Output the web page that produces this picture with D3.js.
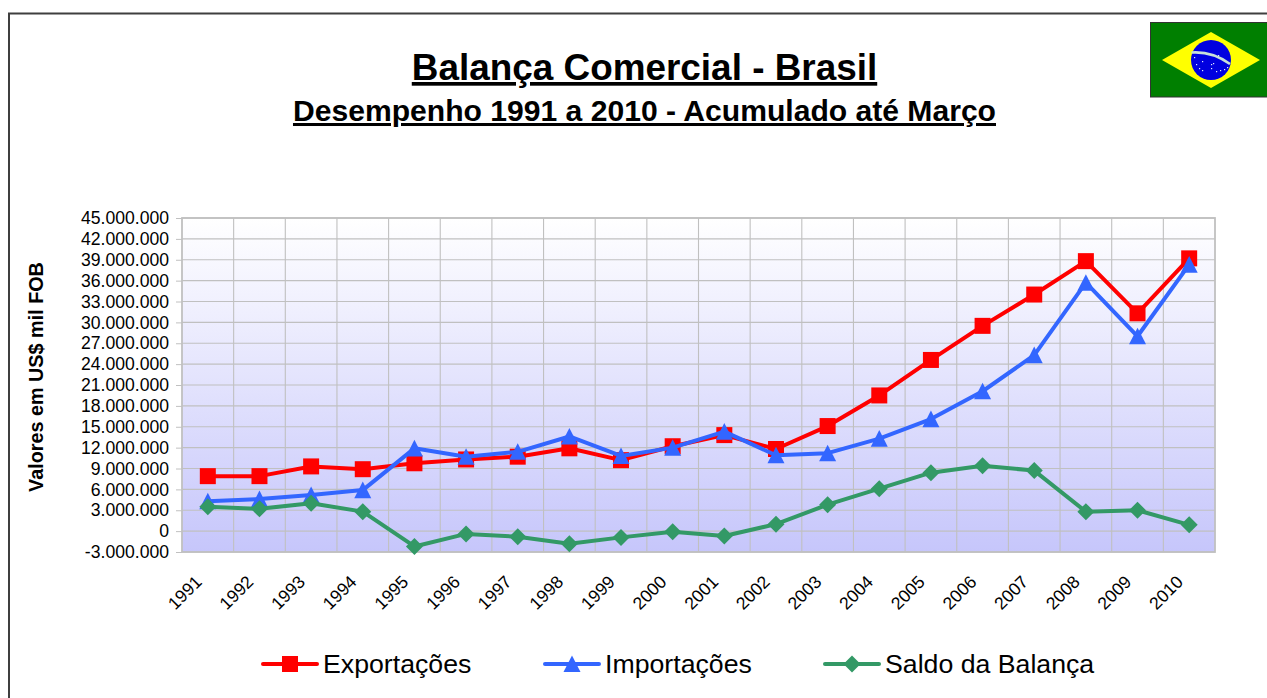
<!DOCTYPE html>
<html><head><meta charset="utf-8">
<script src="https://cdnjs.cloudflare.com/ajax/libs/d3/7.8.5/d3.min.js"></script>
<style>html,body{margin:0;padding:0;background:#fff;overflow:hidden}svg{display:block}text{font-family:"Liberation Sans",Arial,sans-serif;fill:#000}</style>
</head><body><svg id="c" width="1267" height="698"></svg>
<script>
const years=["1991","1992","1993","1994","1995","1996","1997","1998","1999","2000","2001","2002","2003","2004","2005","2006","2007","2008","2009","2010"];
const exportacoes=[7900000,7900000,9300000,8900000,9750000,10300000,10700000,11900000,10200000,12200000,13800000,11800000,15100000,19500000,24600000,29500000,34000000,38800000,31300000,39200000];
const importacoes=[4300000,4600000,5200000,5900000,11900000,10700000,11400000,13600000,10800000,12000000,14300000,10900000,11200000,13300000,16100000,20100000,25300000,35700000,28000000,38300000];
const saldo=[3500000,3200000,4000000,2800000,-2200000,-400000,-800000,-1800000,-900000,-100000,-700000,1000000,3800000,6100000,8400000,9400000,8700000,2800000,3000000,900000];
const yTicks=[-3,0,3,6,9,12,15,18,21,24,27,30,33,36,39,42,45].map(d=>d*1000000);
const seriesNames=["Exportações","Importações","Saldo da Balança"];
const seriesColors=["#ff0000","#3366ff","#339966"];

const svg=d3.select("#c");
const L=182,R=1215,T=218,B=552;
const x=d3.scaleBand().domain(years).range([L,R]);
const y=d3.scaleLinear().domain([-3000000,45000000]).range([B,T]);
const fmt=d=>(d<0?"-":"")+d3.format(",")(Math.abs(d)).replace(/,/g,".");

const defs=svg.append("defs");
const g=defs.append("linearGradient").attr("id","bg").attr("x1",0).attr("y1",0).attr("x2",0).attr("y2",1);
g.append("stop").attr("offset","0").attr("stop-color","#ffffff");
g.append("stop").attr("offset","1").attr("stop-color","#c6c6fb");

// frame
svg.append("path").attr("d","M9,698V13.5H1267").attr("fill","none").attr("stroke","#3f3f3f").attr("stroke-width",2);

// titles
svg.append("text").attr("x",644.5).attr("y",80).attr("text-anchor","middle").attr("font-size",36.9).attr("font-weight","bold").attr("text-decoration","underline").text("Balança Comercial - Brasil");
svg.append("text").attr("x",644.5).attr("y",121).attr("text-anchor","middle").attr("font-size",30.1).attr("font-weight","bold").attr("text-decoration","underline").text("Desempenho 1991 a 2010 - Acumulado até Março");

// flag
const flag=svg.append("g");
flag.append("rect").attr("x",1150.5).attr("y",22.5).attr("width",118).attr("height",74.5).attr("fill","#007f00").attr("stroke","#333").attr("stroke-width",1);
flag.append("path").attr("d","M1162,60L1211,32L1260,60L1211,88Z").attr("fill","#ffff00");
flag.append("circle").attr("cx",1211).attr("cy",60).attr("r",20).attr("fill","#0000e0");
flag.append("path").attr("d","M1191.5,52.5Q1212,51 1230,64").attr("fill","none").attr("stroke","#c8e0d8").attr("stroke-width",2.6);
const stars=[[1194,57],[1196,64],[1202,61],[1199,68],[1211,64],[1213,63],[1211,68],[1216,71],[1220,70],[1224,69],[1227,67],[1202,70],[1218,55]];
flag.selectAll("rect.s").data(stars).join("rect").attr("class","s").attr("x",d=>d[0]).attr("y",d=>d[1]).attr("width",1.2).attr("height",1.2).attr("fill","#dfe8ff");

// plot background
svg.append("rect").attr("x",L).attr("y",T).attr("width",R-L).attr("height",B-T).attr("fill","url(#bg)");

// grid
const grid="#c0c0c0";
svg.append("g").selectAll("line").data(yTicks).join("line").attr("x1",L).attr("x2",R).attr("y1",d=>y(d)).attr("y2",d=>y(d)).attr("stroke",grid).attr("stroke-width",1.1);
svg.append("g").selectAll("line").data(years.slice(1)).join("line").attr("x1",d=>x(d)).attr("x2",d=>x(d)).attr("y1",T).attr("y2",B).attr("stroke",grid).attr("stroke-width",1.1);
svg.append("rect").attr("x",L).attr("y",T).attr("width",R-L).attr("height",B-T).attr("fill","none").attr("stroke",grid).attr("stroke-width",1.8);

// axes
const ya=svg.append("g").attr("transform",`translate(${L},0)`).call(d3.axisLeft(y).tickValues(yTicks).tickFormat(fmt).tickSize(6).tickPadding(7));
ya.select(".domain").remove();
ya.selectAll("line").attr("stroke",grid);
ya.selectAll("text").attr("font-size",17.6).style("font-family",'"Liberation Sans",Arial,sans-serif');
const xa=svg.append("g").attr("transform",`translate(0,${B})`).call(d3.axisBottom(x).tickSize(0).tickFormat(d=>d));
xa.select(".domain").remove();
xa.selectAll("text").attr("font-size",17.6).style("font-family",'"Liberation Sans",Arial,sans-serif')
  .attr("text-anchor","end").attr("dx",0).attr("dy",0).attr("y",0)
  .attr("transform","translate(-5,31) rotate(-45)");

svg.append("text").attr("transform","translate(43,377) rotate(-90)").attr("text-anchor","middle").attr("font-size",19.8).attr("font-weight","bold").text("Valores em US$ mil FOB");

// series
const line=d3.line().x((d,i)=>x(years[i])+x.bandwidth()/2).y(d=>y(d));
const allSeries=[exportacoes,importacoes,saldo];
function diamond(s){return `M0,${-s}L${s},0L0,${s}L${-s},0Z`;}
function tri(s){return `M0,${-s}L${s},${s*0.95}L${-s},${s*0.95}Z`;}
function square(s){return `M${-s},${-s}H${s}V${s}H${-s}Z`;}
const markPath=[square(8),tri(8.5),diamond(8.5)];
[0,1,2].forEach(k=>{
  const gs=svg.append("g");
  gs.append("path").attr("d",line(allSeries[k])).attr("fill","none").attr("stroke",seriesColors[k]).attr("stroke-width",4).attr("stroke-linejoin","round");
  gs.selectAll("path.m").data(allSeries[k]).join("path").attr("class","m")
    .attr("d",markPath[k]).attr("fill",seriesColors[k])
    .attr("transform",(d,i)=>`translate(${x(years[i])+x.bandwidth()/2},${y(d)})`);
});

// legend
const lx=[263,545,825],ly=664;
seriesNames.forEach((n,k)=>{
  const l=svg.append("g");
  l.append("line").attr("x1",lx[k]).attr("x2",lx[k]+54).attr("y1",ly).attr("y2",ly).attr("stroke",seriesColors[k]).attr("stroke-width",4).attr("stroke-linecap","round");
  l.append("path").attr("d",markPath[k]).attr("fill",seriesColors[k]).attr("transform",`translate(${lx[k]+27},${ly})`);
  l.append("text").attr("x",lx[k]+60).attr("y",ly+9).attr("font-size",26.7).text(n);
});
</script></body></html>
